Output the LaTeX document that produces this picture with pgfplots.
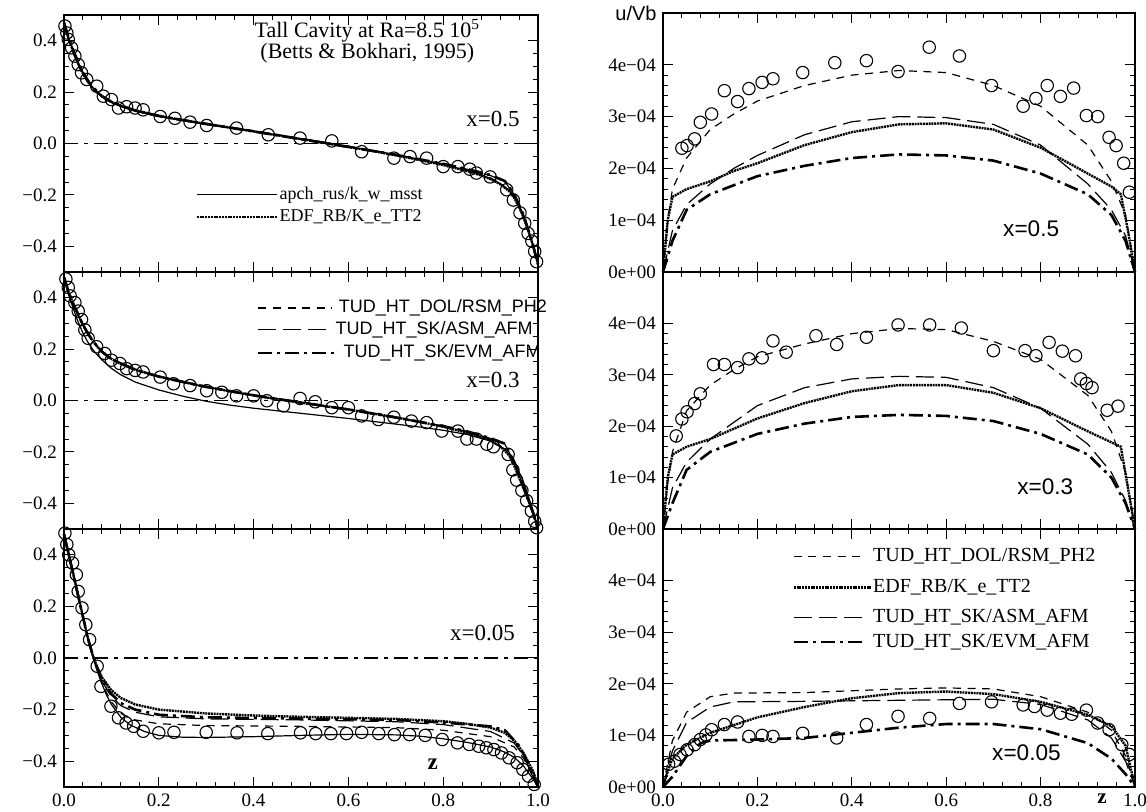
\documentclass[border=0pt]{standalone}
\usepackage{fontspec}
\setmainfont{Liberation Serif}
\setsansfont{Liberation Sans}
\usepackage{pgfplots}
\pgfplotsset{compat=1.18}
\begin{document}
\begin{tikzpicture}
\pgfplotsset{
 base/.style={scale only axis, anchor=south west, clip=false, xmin=0, xmax=1,
   xtick={0,0.2,0.4,0.6,0.8,1}, minor x tick num=4, tick align=inside,
   major tick length=5pt, minor tick length=2.5pt,
   axis line style={line width=0.7pt}, every tick/.append style={line width=0.5pt, black},
   tick label style={font=\fontsize{9.5}{11}\selectfont}, xticklabels={}},
 lax/.style={base, width=237pt, ymin=-0.5, ymax=0.5, ytick={-0.4,-0.2,0,0.2,0.4},
   yticklabels={−0.4,−0.2,0.0,0.2,0.4}, minor y tick num=3},
 rax/.style={base, width=236pt, ymin=0, ymax=5, ytick={0,1,2,3,4},
   yticklabels={0e+00,1e−04,2e−04,3e−04,4e−04}, minor y tick num=4},
 bot/.style={xticklabels={0.0,0.2,0.4,0.6,0.8,1.0}},
}
\tikzset{
 apch/.style={black, line width=0.6pt},
 edf/.style={black, line width=1.2pt, dash pattern=on 1pt off 0.4pt},
 dol/.style={black, line width=0.6pt, dash pattern=on 4pt off 3.3pt},
 asm/.style={black, line width=0.6pt, dash pattern=on 9pt off 3.5pt},
 evm/.style={black, line width=1.3pt, dash pattern=on 7pt off 2.5pt on 1.5pt off 2.5pt},
 zl/.style={black, line width=0.6pt, dash pattern=on 7pt off 3pt on 2pt off 3pt},
 dat/.style={black, only marks, mark=o, mark size=3.1pt, mark options={line width=0.55pt, solid}},
}
\useasboundingbox (0,0) rectangle (573pt,406pt);

% ================= LEFT TOP x=0.5 =================
\begin{axis}[lax, at={(32pt,270pt)}, height=128.5pt]
\addplot[zl] coordinates {(0,0) (1,0)};
\addplot[apch] coordinates {(0,0.47) (0.01,0.41) (0.02,0.36) (0.03,0.315) (0.04,0.275) (0.05,0.243) (0.06,0.218) (0.07,0.198) (0.08,0.182) (0.1,0.16) (0.12,0.144) (0.15,0.127) (0.2,0.106) (0.25,0.09) (0.3,0.075) (0.35,0.062) (0.4,0.048) (0.45,0.033) (0.5,0.018) (0.55,0.004) (0.6,-0.012) (0.65,-0.027) (0.7,-0.044) (0.75,-0.062) (0.8,-0.082) (0.85,-0.105) (0.88,-0.122) (0.9,-0.137) (0.92,-0.156) (0.94,-0.185) (0.95,-0.21) (0.96,-0.245) (0.97,-0.29) (0.98,-0.34) (0.99,-0.40) (1,-0.47)};
\addplot[edf] coordinates {(0,0.47) (0.01,0.405) (0.02,0.355) (0.03,0.31) (0.04,0.272) (0.05,0.242) (0.06,0.218) (0.07,0.199) (0.08,0.184) (0.1,0.162) (0.12,0.146) (0.15,0.129) (0.2,0.108) (0.25,0.091) (0.3,0.076) (0.35,0.062) (0.4,0.047) (0.45,0.032) (0.5,0.017) (0.55,0.002) (0.6,-0.014) (0.65,-0.029) (0.7,-0.046) (0.75,-0.064) (0.8,-0.084) (0.85,-0.107) (0.88,-0.124) (0.9,-0.139) (0.92,-0.158) (0.94,-0.187) (0.95,-0.212) (0.96,-0.247) (0.97,-0.29) (0.98,-0.342) (0.99,-0.40) (1,-0.47)};
\addplot[dol] coordinates {(0,0.47) (0.01,0.40) (0.02,0.35) (0.03,0.305) (0.04,0.268) (0.05,0.238) (0.06,0.214) (0.07,0.196) (0.08,0.181) (0.1,0.16) (0.15,0.128) (0.2,0.108) (0.3,0.078) (0.4,0.05) (0.5,0.02) (0.6,-0.01) (0.7,-0.042) (0.8,-0.08) (0.85,-0.103) (0.9,-0.134) (0.92,-0.154) (0.94,-0.183) (0.96,-0.24) (0.98,-0.335) (1,-0.47)};
\addplot[asm] coordinates {(0,0.47) (0.01,0.41) (0.02,0.36) (0.03,0.315) (0.04,0.276) (0.05,0.245) (0.06,0.22) (0.08,0.183) (0.1,0.161) (0.15,0.126) (0.2,0.105) (0.3,0.074) (0.4,0.046) (0.5,0.016) (0.6,-0.014) (0.7,-0.045) (0.8,-0.08) (0.85,-0.1) (0.9,-0.125) (0.93,-0.148) (0.95,-0.2) (0.97,-0.28) (0.99,-0.4) (1,-0.47)};
\addplot[evm] coordinates {(0,0.47) (0.01,0.41) (0.02,0.36) (0.03,0.316) (0.04,0.277) (0.05,0.246) (0.06,0.221) (0.08,0.184) (0.1,0.162) (0.15,0.128) (0.2,0.107) (0.3,0.076) (0.4,0.047) (0.5,0.017) (0.6,-0.013) (0.7,-0.044) (0.8,-0.079) (0.85,-0.099) (0.9,-0.123) (0.93,-0.146) (0.95,-0.198) (0.97,-0.28) (0.99,-0.4) (1,-0.47)};
\addplot[dat] coordinates {(0.002,0.457) (0.006,0.43) (0.009,0.405) (0.016,0.372) (0.023,0.34) (0.03,0.307) (0.037,0.275) (0.048,0.249) (0.069,0.223) (0.083,0.184) (0.10,0.171) (0.115,0.138) (0.132,0.143) (0.150,0.138) (0.167,0.131) (0.203,0.105) (0.234,0.098) (0.266,0.083) (0.301,0.070) (0.364,0.060) (0.431,0.034) (0.498,0.021) (0.565,0.010) (0.628,-0.032) (0.696,-0.057) (0.730,-0.051) (0.765,-0.057) (0.80,-0.09) (0.831,-0.09) (0.856,-0.10) (0.87,-0.115) (0.899,-0.13) (0.934,-0.18) (0.948,-0.22) (0.962,-0.27) (0.972,-0.31) (0.979,-0.35) (0.987,-0.38) (0.993,-0.42) (0.997,-0.46)};
\node[font=\fontsize{11}{13}\selectfont, inner sep=0pt] at (axis cs:0.64,0.438) {Tall Cavity at Ra=8.5 10\textsuperscript{5}};
\node[font=\fontsize{11}{13}\selectfont, inner sep=0pt] at (axis cs:0.64,0.35) {(Betts \& Bokhari, 1995)};
\node[anchor=east, font=\fontsize{11.5}{13}\selectfont, inner sep=0pt] at (axis cs:0.962,0.095) {x=0.5};
\draw[apch] (axis cs:0.28,-0.2) -- (axis cs:0.45,-0.2);
\node[anchor=west, font=\fontsize{9}{10}\selectfont, inner sep=1pt] at (axis cs:0.45,-0.2) {apch\_rus/k\_w\_msst};
\draw[edf] (axis cs:0.28,-0.285) -- (axis cs:0.45,-0.285);
\node[anchor=west, font=\fontsize{9}{10}\selectfont, inner sep=1pt] at (axis cs:0.45,-0.285) {EDF\_RB/K\_e\_TT2};
\end{axis}

% ================= LEFT MIDDLE x=0.3 =================
\begin{axis}[lax, at={(32pt,141.5pt)}, height=128.5pt]
\addplot[zl] coordinates {(0,0) (1,0)};
\addplot[apch] coordinates {(0,0.48) (0.01,0.41) (0.02,0.355) (0.03,0.305) (0.04,0.262) (0.05,0.228) (0.06,0.2) (0.07,0.178) (0.08,0.158) (0.1,0.125) (0.12,0.1) (0.15,0.072) (0.2,0.041) (0.25,0.017) (0.3,-0.003) (0.35,-0.018) (0.4,-0.03) (0.5,-0.05) (0.6,-0.07) (0.7,-0.092) (0.75,-0.103) (0.8,-0.116) (0.85,-0.132) (0.9,-0.158) (0.93,-0.19) (0.95,-0.235) (0.97,-0.32) (0.99,-0.43) (1,-0.5)};
\addplot[edf] coordinates {(0,0.48) (0.01,0.42) (0.02,0.375) (0.03,0.335) (0.04,0.295) (0.05,0.262) (0.06,0.234) (0.07,0.21) (0.08,0.19) (0.1,0.162) (0.12,0.142) (0.15,0.12) (0.2,0.093) (0.25,0.072) (0.3,0.053) (0.35,0.036) (0.4,0.02) (0.45,0.005) (0.5,-0.008) (0.55,-0.022) (0.6,-0.035) (0.65,-0.05) (0.7,-0.066) (0.75,-0.083) (0.8,-0.102) (0.85,-0.125) (0.88,-0.142) (0.9,-0.156) (0.92,-0.178) (0.94,-0.215) (0.95,-0.255) (0.96,-0.3) (0.97,-0.345) (0.98,-0.39) (0.99,-0.44) (1,-0.5)};
\addplot[dol] coordinates {(0,0.48) (0.01,0.415) (0.02,0.37) (0.03,0.33) (0.04,0.292) (0.05,0.26) (0.06,0.232) (0.08,0.19) (0.1,0.163) (0.15,0.122) (0.2,0.095) (0.3,0.055) (0.4,0.022) (0.5,-0.006) (0.6,-0.033) (0.7,-0.064) (0.8,-0.1) (0.85,-0.123) (0.9,-0.154) (0.93,-0.19) (0.95,-0.25) (0.97,-0.34) (0.99,-0.44) (1,-0.5)};
\addplot[asm] coordinates {(0,0.48) (0.01,0.42) (0.02,0.372) (0.03,0.332) (0.04,0.293) (0.05,0.261) (0.06,0.233) (0.08,0.19) (0.1,0.161) (0.15,0.119) (0.2,0.092) (0.3,0.052) (0.4,0.019) (0.5,-0.009) (0.6,-0.036) (0.7,-0.067) (0.8,-0.1) (0.85,-0.12) (0.9,-0.148) (0.93,-0.17) (0.95,-0.24) (0.97,-0.34) (0.99,-0.44) (1,-0.5)};
\addplot[evm] coordinates {(0,0.48) (0.01,0.42) (0.02,0.374) (0.03,0.334) (0.04,0.294) (0.05,0.262) (0.06,0.233) (0.08,0.19) (0.1,0.161) (0.15,0.12) (0.2,0.093) (0.3,0.053) (0.4,0.02) (0.5,-0.008) (0.6,-0.035) (0.7,-0.066) (0.8,-0.1) (0.85,-0.12) (0.9,-0.147) (0.93,-0.168) (0.95,-0.24) (0.97,-0.34) (0.99,-0.44) (1,-0.5)};
\addplot[dat] coordinates {(0.004,0.473) (0.009,0.44) (0.013,0.407) (0.023,0.381) (0.03,0.348) (0.037,0.315) (0.044,0.275) (0.051,0.242) (0.069,0.209) (0.086,0.183) (0.10,0.157) (0.118,0.144) (0.132,0.124) (0.15,0.117) (0.167,0.111) (0.203,0.091) (0.231,0.065) (0.266,0.058) (0.301,0.038) (0.333,0.032) (0.364,0.018) (0.4,0.018) (0.428,-0.001) (0.463,-0.021) (0.498,0.008) (0.53,-0.005) (0.565,-0.028) (0.6,-0.028) (0.628,-0.06) (0.663,-0.074) (0.696,-0.065) (0.733,-0.08) (0.765,-0.086) (0.797,-0.119) (0.831,-0.119) (0.85,-0.15) (0.87,-0.15) (0.892,-0.17) (0.906,-0.18) (0.937,-0.21) (0.947,-0.27) (0.955,-0.31) (0.966,-0.35) (0.976,-0.39) (0.986,-0.43) (0.993,-0.47) (0.997,-0.495)};
\draw[dol] (axis cs:0.41,0.36) -- (axis cs:0.565,0.36);
\node[anchor=west, font=\sffamily\fontsize{9}{10}\selectfont, inner sep=1pt] at (axis cs:0.575,0.36) {TUD\_HT\_DOL/RSM\_PH2};
\draw[asm] (axis cs:0.41,0.277) -- (axis cs:0.56,0.277);
\node[anchor=west, font=\sffamily\fontsize{9}{10}\selectfont, inner sep=1pt] at (axis cs:0.568,0.277) {TUD\_HT\_SK/ASM\_AFM};
\draw[evm] (axis cs:0.41,0.185) -- (axis cs:0.575,0.185);
\node[anchor=west, font=\sffamily\fontsize{9}{10}\selectfont, inner sep=1pt] at (axis cs:0.585,0.185) {TUD\_HT\_SK/EVM\_AFM};
\node[anchor=east, font=\fontsize{11.5}{13}\selectfont, inner sep=0pt] at (axis cs:0.962,0.08) {x=0.3};
\end{axis}

% ================= LEFT BOTTOM x=0.05 =================
\begin{axis}[lax, bot, at={(32pt,12.5pt)}, height=129pt]
\addplot[zl] coordinates {(0,0) (1,0)};
\addplot[apch] coordinates {(0,0.48) (0.01,0.41) (0.02,0.33) (0.03,0.25) (0.04,0.16) (0.05,0.08) (0.06,0.01) (0.07,-0.05) (0.08,-0.1) (0.09,-0.145) (0.1,-0.18) (0.12,-0.23) (0.14,-0.26) (0.17,-0.285) (0.2,-0.3) (0.25,-0.307) (0.3,-0.308) (0.4,-0.305) (0.5,-0.3) (0.6,-0.296) (0.7,-0.298) (0.75,-0.303) (0.8,-0.313) (0.85,-0.327) (0.9,-0.345) (0.93,-0.365) (0.95,-0.385) (0.97,-0.42) (0.99,-0.47) (1,-0.5)};
\addplot[edf] coordinates {(0,0.48) (0.01,0.40) (0.02,0.32) (0.03,0.24) (0.04,0.16) (0.05,0.08) (0.06,0.015) (0.07,-0.035) (0.08,-0.075) (0.1,-0.125) (0.12,-0.155) (0.15,-0.18) (0.2,-0.2) (0.3,-0.215) (0.4,-0.223) (0.5,-0.228) (0.6,-0.232) (0.7,-0.236) (0.8,-0.245) (0.85,-0.255) (0.9,-0.27) (0.93,-0.29) (0.95,-0.32) (0.97,-0.37) (0.99,-0.44) (1,-0.5)};
\addplot[dol] coordinates {(0,0.48) (0.01,0.40) (0.02,0.32) (0.03,0.24) (0.04,0.16) (0.05,0.08) (0.06,0.012) (0.07,-0.045) (0.08,-0.1) (0.1,-0.17) (0.12,-0.215) (0.15,-0.24) (0.2,-0.255) (0.3,-0.262) (0.5,-0.265) (0.7,-0.27) (0.8,-0.28) (0.9,-0.305) (0.95,-0.345) (0.97,-0.39) (1,-0.5)};
\addplot[asm] coordinates {(0,0.48) (0.01,0.40) (0.02,0.32) (0.03,0.24) (0.04,0.16) (0.05,0.08) (0.06,0.013) (0.07,-0.04) (0.08,-0.09) (0.1,-0.15) (0.12,-0.185) (0.15,-0.21) (0.2,-0.228) (0.3,-0.236) (0.5,-0.24) (0.7,-0.247) (0.8,-0.258) (0.9,-0.285) (0.95,-0.33) (0.97,-0.38) (1,-0.5)};
\addplot[evm] coordinates {(0,0.48) (0.01,0.40) (0.02,0.32) (0.03,0.24) (0.04,0.16) (0.05,0.08) (0.06,0.014) (0.07,-0.04) (0.08,-0.085) (0.1,-0.14) (0.12,-0.175) (0.15,-0.2) (0.2,-0.22) (0.3,-0.23) (0.5,-0.235) (0.7,-0.24) (0.8,-0.25) (0.9,-0.265) (0.93,-0.28) (0.94,-0.3) (0.96,-0.34) (0.98,-0.41) (1,-0.5)};
\addplot[dat] coordinates {(0.002,0.484) (0.006,0.44) (0.01,0.40) (0.018,0.368) (0.026,0.323) (0.03,0.258) (0.038,0.194) (0.046,0.129) (0.054,0.071) (0.07,-0.032) (0.078,-0.11) (0.099,-0.187) (0.115,-0.232) (0.131,-0.252) (0.147,-0.265) (0.167,-0.284) (0.20,-0.29) (0.232,-0.288) (0.30,-0.288) (0.365,-0.29) (0.43,-0.293) (0.499,-0.29) (0.531,-0.293) (0.563,-0.293) (0.596,-0.293) (0.628,-0.288) (0.664,-0.293) (0.697,-0.297) (0.729,-0.297) (0.762,-0.30) (0.798,-0.316) (0.83,-0.329) (0.855,-0.335) (0.875,-0.342) (0.891,-0.348) (0.907,-0.355) (0.923,-0.368) (0.939,-0.387) (0.956,-0.406) (0.968,-0.432) (0.98,-0.458) (0.992,-0.49)};
\node[font=\fontsize{11.5}{13}\selectfont, inner sep=0pt] at (axis cs:0.883,0.097) {x=0.05};
\node[font=\bfseries\fontsize{11.5}{13}\selectfont, inner sep=0pt] at (axis cs:0.778,-0.41) {z};
\end{axis}

% ================= RIGHT TOP x=0.5 =================
\begin{axis}[rax, at={(331.5pt,270pt)}, height=129.5pt]
\addplot[dol] coordinates {(0,0) (0.01,1.0) (0.02,1.6) (0.05,2.2) (0.1,2.75) (0.15,3.05) (0.2,3.3) (0.3,3.6) (0.4,3.8) (0.5,3.89) (0.6,3.85) (0.7,3.6) (0.8,3.2) (0.9,2.45) (0.95,1.75) (0.98,1.1) (1,0)};
\addplot[asm] coordinates {(0,0) (0.02,0.8) (0.05,1.3) (0.1,1.7) (0.15,2.0) (0.2,2.25) (0.3,2.65) (0.4,2.9) (0.5,3.0) (0.6,2.98) (0.7,2.85) (0.8,2.45) (0.9,1.7) (0.95,1.2) (0.98,0.7) (1,0)};
\addplot[edf] coordinates {(0,0) (0.01,1.0) (0.02,1.45) (0.05,1.6) (0.1,1.75) (0.15,1.95) (0.2,2.1) (0.3,2.45) (0.4,2.7) (0.5,2.85) (0.6,2.87) (0.7,2.75) (0.8,2.4) (0.9,1.9) (0.95,1.65) (0.97,1.5) (0.985,0.8) (1,0)};
\addplot[evm] coordinates {(0,0) (0.02,0.6) (0.05,1.2) (0.1,1.5) (0.2,1.85) (0.3,2.05) (0.4,2.2) (0.5,2.27) (0.6,2.25) (0.7,2.15) (0.8,1.9) (0.9,1.5) (0.95,1.1) (0.98,0.6) (1,0)};
\addplot[dat] coordinates {(0.04,2.39) (0.051,2.44) (0.067,2.57) (0.079,2.89) (0.103,3.05) (0.13,3.5) (0.158,3.29) (0.182,3.54) (0.21,3.66) (0.233,3.73) (0.296,3.85) (0.364,4.04) (0.431,4.08) (0.498,3.87) (0.564,4.34) (0.628,4.17) (0.696,3.6) (0.763,3.2) (0.79,3.35) (0.814,3.6) (0.842,3.39) (0.87,3.55) (0.897,3.02) (0.921,3.0) (0.945,2.6) (0.96,2.44) (0.976,2.1) (0.988,1.54)};
\node[font=\sffamily\fontsize{11.3}{13}\selectfont, inner sep=0pt] at (axis cs:0.78,0.83) {x=0.5};
\end{axis}

% ================= RIGHT MIDDLE x=0.3 =================
\begin{axis}[rax, at={(331.5pt,141.5pt)}, height=128.5pt]
\addplot[dol] coordinates {(0,0) (0.01,0.9) (0.02,1.5) (0.05,2.3) (0.1,2.8) (0.15,3.1) (0.2,3.35) (0.3,3.6) (0.4,3.8) (0.5,3.9) (0.6,3.88) (0.7,3.65) (0.8,3.3) (0.9,2.6) (0.95,1.9) (0.98,1.1) (1,0)};
\addplot[asm] coordinates {(0,0) (0.02,0.8) (0.05,1.3) (0.1,1.75) (0.2,2.4) (0.3,2.75) (0.4,2.92) (0.5,2.97) (0.6,2.95) (0.7,2.75) (0.8,2.35) (0.9,1.65) (0.95,1.1) (0.98,0.55) (1,0)};
\addplot[edf] coordinates {(0,0) (0.01,1.0) (0.02,1.45) (0.05,1.6) (0.1,1.75) (0.2,2.15) (0.3,2.45) (0.4,2.68) (0.5,2.8) (0.6,2.8) (0.7,2.65) (0.8,2.35) (0.9,1.9) (0.97,1.6) (0.985,0.8) (1,0)};
\addplot[evm] coordinates {(0,0) (0.02,0.5) (0.05,1.15) (0.1,1.5) (0.2,1.85) (0.3,2.05) (0.4,2.18) (0.5,2.22) (0.6,2.2) (0.7,2.1) (0.8,1.85) (0.9,1.45) (0.95,1.0) (0.98,0.5) (1,0)};
\addplot[dat] coordinates {(0.028,1.81) (0.04,2.14) (0.051,2.28) (0.067,2.44) (0.079,2.63) (0.107,3.2) (0.13,3.2) (0.158,3.14) (0.182,3.31) (0.21,3.33) (0.233,3.66) (0.261,3.44) (0.324,3.76) (0.368,3.59) (0.431,3.73) (0.498,3.97) (0.565,3.97) (0.632,3.91) (0.7,3.47) (0.767,3.47) (0.79,3.37) (0.818,3.63) (0.846,3.46) (0.874,3.37) (0.885,2.92) (0.897,2.83) (0.909,2.75) (0.941,2.31) (0.964,2.39)};
\node[font=\sffamily\fontsize{11.3}{13}\selectfont, inner sep=0pt] at (axis cs:0.81,0.83) {x=0.3};
\end{axis}

% ================= RIGHT BOTTOM x=0.05 =================
\begin{axis}[rax, bot, at={(331.5pt,12.5pt)}, height=129pt]
\addplot[dol] coordinates {(0,0) (0.02,0.9) (0.05,1.45) (0.1,1.75) (0.15,1.82) (0.3,1.83) (0.5,1.9) (0.6,1.92) (0.7,1.9) (0.8,1.75) (0.9,1.45) (0.95,1.1) (0.98,0.6) (1,0)};
\addplot[asm] coordinates {(0,0) (0.02,0.7) (0.05,1.25) (0.1,1.55) (0.15,1.65) (0.3,1.66) (0.5,1.68) (0.7,1.7) (0.8,1.6) (0.9,1.3) (0.95,0.95) (0.98,0.5) (1,0)};
\addplot[edf] coordinates {(0,0) (0.01,0.3) (0.02,0.55) (0.05,0.82) (0.1,1.05) (0.2,1.35) (0.3,1.55) (0.4,1.72) (0.5,1.82) (0.6,1.85) (0.7,1.8) (0.8,1.65) (0.9,1.4) (0.95,1.18) (0.98,0.8) (1,0)};
\addplot[evm] coordinates {(0,0) (0.02,0.2) (0.05,0.6) (0.08,0.85) (0.1,0.9) (0.2,0.92) (0.3,0.95) (0.4,1.05) (0.5,1.15) (0.6,1.22) (0.7,1.22) (0.8,1.12) (0.9,0.85) (0.95,0.55) (0.98,0.25) (1,0)};
\addplot[dat] coordinates {(0.012,0.44) (0.024,0.5) (0.036,0.63) (0.051,0.72) (0.067,0.82) (0.079,0.92) (0.091,1.01) (0.103,1.11) (0.13,1.21) (0.158,1.26) (0.182,0.98) (0.21,1.0) (0.233,0.98) (0.296,1.04) (0.368,0.95) (0.431,1.21) (0.498,1.37) (0.565,1.33) (0.628,1.62) (0.696,1.65) (0.763,1.59) (0.787,1.56) (0.814,1.49) (0.842,1.43) (0.866,1.41) (0.897,1.49) (0.921,1.24) (0.945,1.11) (0.972,0.82) (0.988,0.63)};
\draw[dol] (axis cs:0.277,4.47) -- (axis cs:0.427,4.47);
\node[anchor=west, font=\fontsize{10}{11}\selectfont, inner sep=1pt] at (axis cs:0.44,4.47) {TUD\_HT\_DOL/RSM\_PH2};
\draw[edf] (axis cs:0.277,3.87) -- (axis cs:0.44,3.87);
\node[anchor=west, font=\fontsize{10}{11}\selectfont, inner sep=1pt] at (axis cs:0.44,3.87) {EDF\_RB/K\_e\_TT2};
\draw[asm] (axis cs:0.277,3.29) -- (axis cs:0.427,3.29);
\node[anchor=west, font=\fontsize{10}{11}\selectfont, inner sep=1pt] at (axis cs:0.44,3.29) {TUD\_HT\_SK/ASM\_AFM};
\draw[evm] (axis cs:0.277,2.81) -- (axis cs:0.427,2.81);
\node[anchor=west, font=\fontsize{10}{11}\selectfont, inner sep=1pt] at (axis cs:0.44,2.81) {TUD\_HT\_SK/EVM\_AFM};
\node[font=\sffamily\fontsize{11.3}{13}\selectfont, inner sep=0pt] at (axis cs:0.77,0.66) {x=0.05};
\node[font=\bfseries\fontsize{10.5}{12}\selectfont, inner sep=0pt] at (axis cs:0.93,-0.22) {z};
\end{axis}

\node[font=\sffamily\fontsize{10}{12}\selectfont, inner sep=0pt] at (318pt,399.5pt) {u/Vb};
\end{tikzpicture}
\end{document}
